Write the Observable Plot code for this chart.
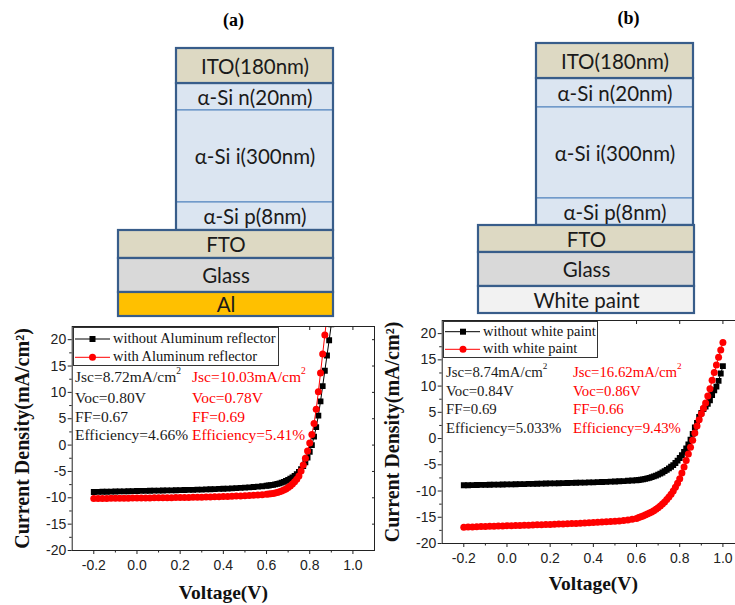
<!DOCTYPE html>
<html><head><meta charset="utf-8">
<script src="https://cdn.jsdelivr.net/npm/d3@7"></script>
<script src="https://cdn.jsdelivr.net/npm/@observablehq/plot@0.6"></script>
<style>
body{margin:0;background:#fff;}
#fig{position:relative;width:735px;height:605px;overflow:hidden;background:#fff;}
</style></head><body><div id="fig"></div>
<script>
// ---------------- DATA ----------------
// Device stacks (top to bottom)
const layersA = ["ITO(180nm)", "α-Si n(20nm)", "α-Si i(300nm)", "α-Si p(8nm)", "FTO", "Glass", "Al"];
const layersB = ["ITO(180nm)", "α-Si n(20nm)", "α-Si i(300nm)", "α-Si p(8nm)", "FTO", "Glass", "White paint"];
const panelTitles = ["(a)", "(b)"];

// J-V curves, panel (a)
const voltA = [-0.20,-0.18,-0.16,-0.14,-0.12,-0.10,-0.08,-0.06,-0.04,-0.02,
  0.00,0.02,0.04,0.06,0.08,0.10,0.12,0.14,0.16,0.18,
  0.20,0.22,0.24,0.26,0.28,0.30,0.32,0.34,0.36,0.38,
  0.40,0.42,0.44,0.46,0.48,0.50,0.52,0.54,0.56,0.58,
  0.60,0.61,0.62,0.63,0.64,0.65,0.66,0.67,0.68,0.69,
  0.70,0.71,0.72,0.73,0.74,0.75,0.76,0.77,0.78,0.79,
  0.80,0.81,0.82,0.83,0.84,0.85,0.86,0.87,0.88,0.89,0.90];
const jWithoutAl = [-8.90,-8.88,-8.86,-8.85,-8.83,-8.81,-8.79,-8.77,-8.75,-8.74,
  -8.72,-8.70,-8.69,-8.67,-8.65,-8.64,-8.62,-8.60,-8.58,-8.57,
  -8.55,-8.53,-8.51,-8.49,-8.46,-8.44,-8.41,-8.38,-8.35,-8.32,
  -8.28,-8.25,-8.21,-8.17,-8.12,-8.07,-8.02,-7.96,-7.89,-7.81,
  -7.72,-7.67,-7.61,-7.54,-7.46,-7.37,-7.26,-7.13,-6.98,-6.80,
  -6.60,-6.38,-6.13,-5.84,-5.50,-5.08,-4.58,-3.98,-3.25,-2.38,
  -1.30,0.00,1.60,3.40,5.60,8.30,11.20,14.10,17.00,19.90,22.90];
const jWithAl = [-10.15,-10.14,-10.13,-10.12,-10.11,-10.10,-10.09,-10.08,-10.07,-10.06,
  -10.05,-10.04,-10.03,-10.02,-10.01,-10.00,-9.99,-9.98,-9.97,-9.96,
  -9.95,-9.94,-9.93,-9.91,-9.90,-9.88,-9.86,-9.84,-9.82,-9.80,
  -9.77,-9.74,-9.71,-9.68,-9.64,-9.60,-9.56,-9.51,-9.46,-9.40,
  -9.33,-9.29,-9.24,-9.17,-9.09,-8.99,-8.87,-8.72,-8.54,-8.32,
  -8.06,-7.74,-7.36,-6.95,-6.50,-5.85,-4.90,-3.80,-2.50,-1.10,
  0.40,2.00,4.10,6.80,10.10,13.70,17.30,20.90,24.50];

// J-V curves, panel (b)
const voltB = [-0.20,-0.18,-0.16,-0.14,-0.12,-0.10,-0.08,-0.06,-0.04,-0.02,
  0.00,0.02,0.04,0.06,0.08,0.10,0.12,0.14,0.16,0.18,
  0.20,0.22,0.24,0.26,0.28,0.30,0.32,0.34,0.36,0.38,
  0.40,0.42,0.44,0.46,0.48,0.50,0.52,0.54,0.56,0.58,
  0.60,0.61,0.62,0.63,0.64,0.65,0.66,0.67,0.68,0.69,
  0.70,0.71,0.72,0.73,0.74,0.75,0.76,0.77,0.78,0.79,
  0.80,0.81,0.82,0.83,0.84,0.85,0.86,0.87,0.88,0.89,
  0.90,0.91,0.92,0.93,0.94,0.95,0.96,0.97,0.98,0.99,1.00];
const jWithoutPaint = [-8.90,-8.89,-8.87,-8.86,-8.84,-8.83,-8.81,-8.79,-8.78,-8.76,
  -8.74,-8.72,-8.71,-8.69,-8.67,-8.65,-8.63,-8.61,-8.59,-8.57,
  -8.55,-8.53,-8.51,-8.49,-8.47,-8.45,-8.43,-8.41,-8.39,-8.36,
  -8.34,-8.31,-8.28,-8.25,-8.22,-8.18,-8.14,-8.10,-8.05,-8.00,
  -7.95,-7.90,-7.84,-7.77,-7.69,-7.60,-7.49,-7.36,-7.22,-7.06,
  -6.88,-6.68,-6.46,-6.22,-5.96,-5.68,-5.38,-5.06,-4.65,-4.20,
  -3.70,-3.15,-2.55,-1.90,-1.10,-0.20,0.90,2.10,3.00,4.10,
  4.90,5.60,6.10,6.60,7.30,8.30,9.20,9.90,11.00,12.40,13.80];
const jWithPaint = [-16.90,-16.87,-16.84,-16.81,-16.78,-16.75,-16.72,-16.70,-16.67,-16.65,
  -16.62,-16.60,-16.57,-16.55,-16.52,-16.50,-16.47,-16.45,-16.42,-16.39,
  -16.36,-16.33,-16.30,-16.27,-16.24,-16.20,-16.17,-16.13,-16.09,-16.05,
  -16.00,-15.96,-15.91,-15.86,-15.80,-15.75,-15.69,-15.61,-15.52,-15.40,
  -15.25,-15.05,-14.90,-14.75,-14.58,-14.40,-14.20,-13.98,-13.75,-13.48,
  -13.18,-12.85,-12.48,-12.07,-11.62,-11.13,-10.60,-10.00,-9.30,-8.50,
  -7.65,-6.55,-5.40,-4.20,-2.95,-1.65,-0.30,1.05,2.40,3.60,
  4.75,5.80,6.80,8.10,9.50,11.10,12.60,14.00,15.50,16.90,18.30];

// Axes
const xDomain = [-0.3, 1.1];
const yDomain = [-20, 22.5];
const xTicks = [-0.2, 0.0, 0.2, 0.4, 0.6, 0.8, 1.0];
const xMinor = [-0.1, 0.1, 0.3, 0.5, 0.7, 0.9];
const yTicks = [-20, -15, -10, -5, 0, 5, 10, 15, 20];
const yMinor = [-17.5, -12.5, -7.5, -2.5, 2.5, 7.5, 12.5, 17.5];
const xLabel = "Voltage(V)";
const yLabel = "Current Density(mA/cm²)";

// Legends and parameters
const legendA = ["without Aluminum reflector", "with Aluminum reflector"];
const legendB = ["without white paint", "with white paint"];
const statsWithoutAl = ["Jsc=8.72mA/cm²", "Voc=0.80V", "FF=0.67", "Efficiency=4.66%"];
const statsWithAl = ["Jsc=10.03mA/cm²", "Voc=0.78V", "FF=0.69", "Efficiency=5.41%"];
const statsWithoutPaint = ["Jsc=8.74mA/cm²", "Voc=0.84V", "FF=0.69", "Efficiency=5.033%"];
const statsWithPaint = ["Jsc=16.62mA/cm²", "Voc=0.86V", "FF=0.66", "Efficiency=9.43%"];

// ---------------- DRAWING ----------------
const fig = document.getElementById("fig");
function place(el, left, top) {
  el.style.position = "absolute";
  el.style.left = left + "px";
  el.style.top = top + "px";
  fig.appendChild(el);
}
const SERIF = "'Liberation Serif','Times New Roman',serif";
const SANS = "'Liberation Sans',Arial,sans-serif";

// Device stack diagrams
const layerFill = {"ITO(180nm)": "#ddd9c3", "FTO": "#ddd9c3", "Glass": "#d9d9d9", "Al": "#ffc000", "White paint": "#f2f2f2"};
const geomA = {stackX: [176, 333], baseX: [118, 333], ys: [48, 83, 110, 202, 230, 258, 292, 316], title: [233, 20]};
const geomB = {stackX: [536, 693], baseX: [478, 694], ys: [43, 78, 107, 198, 225, 252, 286, 313], title: [628, 18]};
function stackRows(labels, g) {
  return labels.map((label, i) => ({
    label,
    x1: i < 4 ? g.stackX[0] : g.baseX[0],
    x2: i < 4 ? g.stackX[1] : g.baseX[1],
    y1: g.ys[i], y2: g.ys[i + 1],
    fill: layerFill[label] || "#dbe5f1",
    si: i >= 1 && i <= 3
  }));
}
const rows = [...stackRows(layersA, geomA), ...stackRows(layersB, geomB)];
const groups = [geomA, geomB].map(g => ({x1: g.stackX[0], x2: g.stackX[1], y1: g.ys[1], y2: g.ys[4]}));
const titles = panelTitles.map((t, i) => ({t, x: [geomA, geomB][i].title[0], y: [geomA, geomB][i].title[1]}));

const diagram = Plot.plot({
  width: 735, height: 320, margin: 0,
  x: {type: "identity"}, y: {type: "identity"}, color: {type: "identity"},
  style: {background: "transparent"},
  marks: [
    Plot.rect(rows.filter(d => d.si), {x1: "x1", x2: "x2", y1: "y1", y2: "y2", fill: "fill", stroke: "#4f81bd", strokeWidth: 1}),
    Plot.rect(groups, {x1: "x1", x2: "x2", y1: "y1", y2: "y2", fill: "none", stroke: "#385d8a", strokeWidth: 2.2}),
    Plot.rect(rows.filter(d => !d.si), {x1: "x1", x2: "x2", y1: "y1", y2: "y2", fill: "fill", stroke: "#385d8a", strokeWidth: 2.2}),
    Plot.text(rows, {x: d => (d.x1 + d.x2) / 2, y: d => (d.y1 + d.y2) / 2 + 1, text: "label", fontFamily: "Lato", fontSize: 20.5, fill: "#1a1a1a"}),
    Plot.text(titles, {x: "x", y: "y", text: "t", fontFamily: SERIF, fontWeight: "bold", fontSize: 18, fill: "#000"})
  ]
});
place(diagram, 0, 0);

// J-V plots
function jvPlot(volts, black, red, m) {
  const blackData = black.map((j, i) => ({v: volts[i], j}));
  const redData = red.map((j, i) => ({v: volts[i], j}));
  return Plot.plot({
    width: 380, height: 305,
    marginLeft: m.ml, marginRight: m.mr, marginTop: m.mt, marginBottom: m.mb,
    x: {domain: xDomain}, y: {domain: yDomain},
    style: {background: "transparent", overflow: "visible", color: "#222"},
    marks: [
      Plot.line(blackData, {x: "v", y: "j", stroke: "#000", strokeWidth: 1, clip: true}),
      Plot.dot(blackData, {x: "v", y: "j", symbol: "square", fill: "#000", r: 3.3, clip: true}),
      Plot.line(redData, {x: "v", y: "j", stroke: "#ff0000", strokeWidth: 1, clip: true}),
      Plot.dot(redData, {x: "v", y: "j", symbol: "circle", fill: "#ff0000", r: 3.5, clip: true}),
      Plot.frame({stroke: "#222", strokeWidth: 1}),
      Plot.axisY({ticks: yTicks, tickSize: 4, tickPadding: 2, tickFormat: d => String(d), fontSize: 14, fontFamily: SANS, label: null}),
      Plot.axisY({ticks: yMinor, tickSize: 2.5, fill: "none", label: null}),
      Plot.axisY({anchor: "right", ticks: yTicks, tickSize: -3, fill: "none", label: null}),
      Plot.axisX({ticks: xTicks, tickSize: 4, tickPadding: 6, tickFormat: d => d.toFixed(1), fontSize: 14, fontFamily: SANS, label: null}),
      Plot.axisX({ticks: xMinor, tickSize: 2.5, fill: "none", label: null}),
      Plot.axisX({anchor: "top", ticks: xTicks, tickSize: -3, fill: "none", label: null}),
      Plot.text([yLabel], {frameAnchor: "left", dx: -50, rotate: -90, textAnchor: "middle", lineAnchor: "middle", fontFamily: SERIF, fontWeight: "bold", fontSize: 20, fill: "#111"}),
      Plot.text([xLabel], {frameAnchor: "bottom", dy: m.xl, textAnchor: "middle", lineAnchor: "middle", fontFamily: SERIF, fontWeight: "bold", fontSize: 19.5, fill: "#111"})
    ]
  });
}
place(jvPlot(voltA, jWithoutAl, jWithAl, {ml: 71.7, mr: 6, mt: 26, mb: 55, xl: 42}), 0, 300);
place(jvPlot(voltB, jWithoutPaint, jWithPaint, {ml: 71.7, mr: 6, mt: 20, mb: 62, xl: 40}), 370, 300);

// Legends and parameter annotations (overlay)
const ov = d3.create("svg").attr("width", 735).attr("height", 605).style("overflow", "visible");
function drawLegend(labels, L) {
  const g = ov.append("g");
  g.append("rect").attr("x", L.x + 0.5).attr("y", L.y + 0.5).attr("width", L.w).attr("height", L.h)
    .attr("fill", "#fff").attr("stroke", "#333").attr("stroke-width", 1);
  labels.forEach((label, i) => {
    const color = i === 0 ? "#000" : "#ff0000";
    g.append("line").attr("x1", L.lx[0]).attr("x2", L.lx[1]).attr("y1", L.ly[i]).attr("y2", L.ly[i])
      .attr("stroke", color).attr("stroke-width", 1);
    if (i === 0) g.append("rect").attr("x", L.mx - 3).attr("y", L.ly[i] - 3).attr("width", 6).attr("height", 6).attr("fill", color);
    else g.append("circle").attr("cx", L.mx).attr("cy", L.ly[i]).attr("r", 3.5).attr("fill", color);
    g.append("text").attr("x", L.tx).attr("y", L.tb[i]).attr("font-family", SERIF).attr("font-size", L.fs)
      .attr("fill", "#111").text(label);
  });
}
function drawStats(lines, x, baselines, color, fs) {
  lines.forEach((s, i) => {
    const t = ov.append("text").attr("x", x).attr("y", baselines[i]).attr("font-family", SERIF)
      .attr("font-size", fs).attr("fill", color);
    const parts = s.split("²");
    t.append("tspan").text(parts[0]);
    if (parts.length > 1) t.append("tspan").attr("font-size", fs * 0.62).attr("dy", -8).text("2");
  });
}
drawLegend(legendA, {x: 73, y: 327, w: 205, h: 38, lx: [75, 110], ly: [339, 357.3], mx: 92.5, tx: 113, tb: [342.7, 361], fs: 14.5});
drawLegend(legendB, {x: 443, y: 321, w: 154, h: 36, lx: [445, 480], ly: [331.7, 349.3], mx: 463, tx: 483, tb: [335.7, 353.3], fs: 14.5});
drawStats(statsWithoutAl, 75, [382, 402.5, 421.5, 440], "#1a1a1a", 15.5);
drawStats(statsWithAl, 192, [382, 402.5, 421.5, 440], "#ff0000", 15.5);
drawStats(statsWithoutPaint, 446, [377.3, 396, 414.3, 432.7], "#1a1a1a", 14.8);
drawStats(statsWithPaint, 573, [377.3, 396, 414.3, 432.7], "#ff0000", 14.8);
place(ov.node(), 0, 0);
</script></body></html>
